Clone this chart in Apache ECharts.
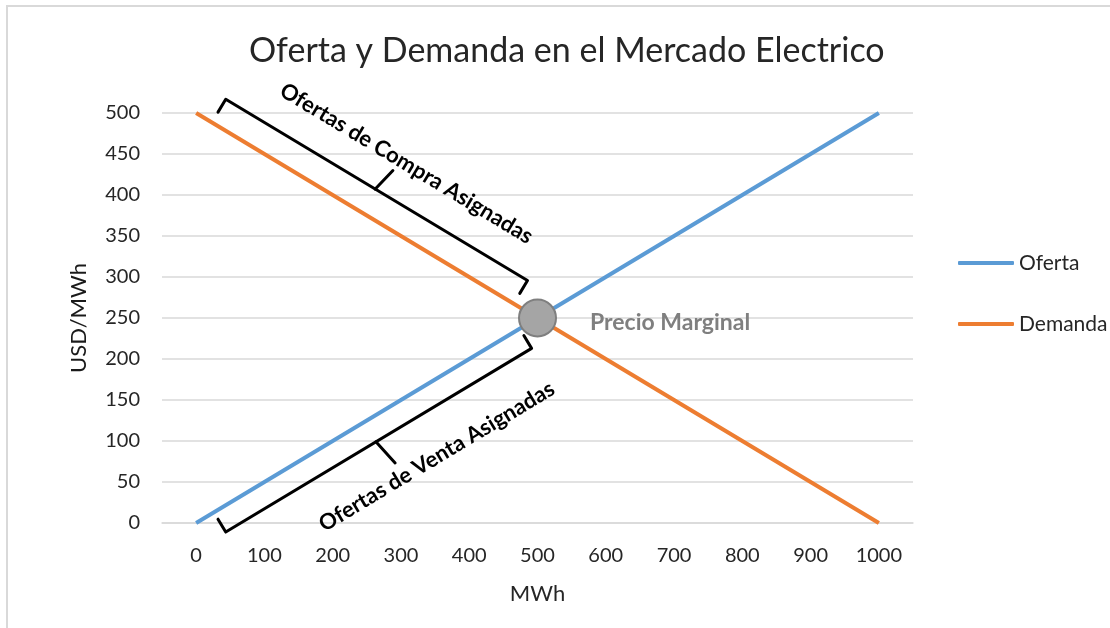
<!DOCTYPE html>
<html>
<head>
<meta charset="utf-8">
<script src="https://cdn.jsdelivr.net/npm/echarts@6/dist/echarts.min.js"></script>
<style>
html,body{margin:0;padding:0;background:#fff;}
#chart{width:1110px;height:628px;}
</style>
</head>
<body>
<div id="chart"></div>
<script>
// ---- data ----
const categories = ['0','100','200','300','400','500','600','700','800','900','1000'];
const oferta  = [0,50,100,150,200,250,300,350,400,450,500];
const demanda = [500,450,400,350,300,250,200,150,100,50,0];
const yTicks = {min:0, max:500, interval:50};
const equilibrium = ['500', 250];
// annotation ranges along the lines (MWh): start, end, brace tip, text centre
const compraRange = [23, 465, 245, 259];
const ventaRange  = [26, 474, 249, 302];

const FONT = 'Lato, "Open Sans", sans-serif';
const chart = echarts.init(document.getElementById('chart'));

const option = {
  animation:false,
  backgroundColor:'#fff',
  title:{
    text:'Oferta y Demanda en el Mercado Electrico',
    left:244, top:29,
    textStyle:{fontFamily:FONT, fontSize:34, fontWeight:'normal', color:'#262626'}
  },
  legend:{
    orient:'vertical', left:953, top:247,
    itemWidth:56, itemHeight:4, itemGap:39,
    icon:'roundRect',
    textStyle:{fontFamily:FONT, fontSize:21, color:'#262626', lineHeight:22},
    data:['Oferta','Demanda']
  },
  grid:{left:162, right:197, top:113, bottom:105, containLabel:false},
  xAxis:{
    type:'category', data:categories, boundaryGap:true,
    name:'MWh', nameLocation:'middle', nameGap:60,
    nameTextStyle:{fontFamily:FONT, fontSize:22, color:'#262626'},
    axisLine:{lineStyle:{color:'#D9D9D9', width:1.5}},
    axisTick:{show:false},
    axisLabel:{fontFamily:FONT, fontSize:20, color:'#262626', margin:23}
  },
  yAxis:{
    type:'value', min:yTicks.min, max:yTicks.max, interval:yTicks.interval,
    name:'USD/MWh', nameLocation:'middle', nameGap:72, nameRotate:90,
    nameTextStyle:{fontFamily:FONT, fontSize:22, color:'#1a1a1a'},
    axisLine:{show:false}, axisTick:{show:false},
    axisLabel:{fontFamily:FONT, fontSize:20, color:'#262626', margin:22},
    splitLine:{lineStyle:{color:'#D9D9D9', width:1.5}}
  },
  series:[
    {name:'Oferta', type:'line', data:oferta, symbol:'none',
     lineStyle:{color:'#5B9BD5', width:4}, itemStyle:{color:'#5B9BD5'}},
    {name:'Demanda', type:'line', data:demanda, symbol:'none',
     lineStyle:{color:'#ED7D31', width:4}, itemStyle:{color:'#ED7D31'},
     markPoint:{
       symbol:'circle', symbolSize:37,
       itemStyle:{color:'#A5A5A5', borderColor:'#7F7F7F', borderWidth:2},
       label:{show:true, position:'right', distance:33, offset:[0,5], formatter:'Precio Marginal',
              fontFamily:FONT, fontSize:23, fontWeight:'bold', color:'#7F7F7F'},
       data:[{coord:equilibrium}]
     }}
  ]
};
chart.setOption(option);

function bracket(seriesVals, range, above, dMain, dHook, dTip, dText, text){
  const pA = chart.convertToPixel({seriesIndex:0}, [0, seriesVals[0]]);
  const pB = chart.convertToPixel({seriesIndex:0}, [categories.length-1, seriesVals[seriesVals.length-1]]);
  const dx = pB[0]-pA[0], dy = pB[1]-pA[1];
  const len = Math.hypot(dx,dy);
  const u = [dx/len, dy/len];
  let n = [u[1], -u[0]];
  if ((above && n[1] > 0) || (!above && n[1] < 0)) n = [-n[0], -n[1]];
  const span = 1000;
  const P = (mwh, d) => {
    const f = mwh/span;
    return [pA[0]+f*dx+d*n[0], pA[1]+f*dy+d*n[1]];
  };
  const [s,e,m,t] = range;
  const ang = Math.atan2(-dy, dx);
  const st = {stroke:'#000', lineWidth:3, fill:null, lineJoin:'round', lineCap:'round'};
  const tp = P(t, dText);
  return [
    {type:'polyline', z:50, shape:{points:[P(s,dHook),P(s,dMain),P(e,dMain),P(e,dHook)]}, style:st},
    {type:'polyline', z:50, shape:{points:[P(m-3,dMain),P(m+4,dMain+dTip)]}, style:st},
    {type:'text', z:50, x:tp[0], y:tp[1], rotation:ang,
     style:{text:text, fill:'#000', font:'bold 22px '+FONT, align:'center', verticalAlign:'middle'}}
  ];
}

const graphics = [
  {type:'rect', z:-1, shape:{x:7, y:6, width:1200, height:700},
   style:{fill:null, stroke:'#D9D9D9', lineWidth:2}},
  ...bracket(demanda, compraRange, true, 27, 12, 25, 65, 'Ofertas de Compra Asignadas'),
  ...bracket(oferta, ventaRange, false, 23, 8, 28, 67, 'Ofertas de Venta Asignadas')
];
chart.setOption({graphic:graphics});
</script>
</body>
</html>
